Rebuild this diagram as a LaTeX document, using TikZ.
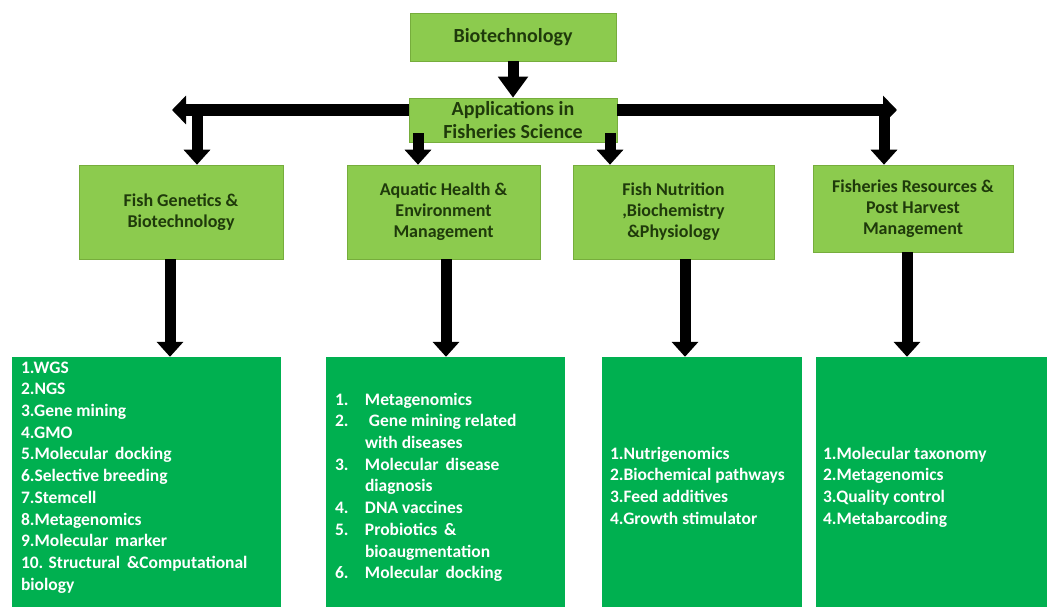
\documentclass[tikz,border=0pt]{standalone}
\usepackage{fontspec}
\setmainfont{Carlito}
\usetikzlibrary{arrows.meta,calc}
\definecolor{lgreen}{HTML}{8CCB4E}
\definecolor{lborder}{HTML}{76AD3C}
\definecolor{dgreen}{HTML}{00B050}
\definecolor{dtext}{HTML}{1F3A0B}
\tikzset{
  lbox/.style={rectangle, fill=lgreen, draw=lborder, line width=0.6pt, inner sep=0pt,
    font=\bfseries\fontsize{18}{21}\selectfont, text=dtext, align=center},
  gbox/.style={rectangle, fill=dgreen, draw=none, inner sep=0pt, minimum height=250pt},
  gtext/.style={anchor=north west, inner sep=0pt, align=left, text=white,
    font=\bfseries\fontsize{17.5}{21.7}\selectfont},
  fat/.style={line width=11pt, -{Triangle[width=26pt,length=15pt]}},
  bigfat/.style={line width=11pt, -{Triangle[width=29pt,length=21pt]}},
}
\newcommand{\nm}[1]{\makebox[30pt][l]{#1}}
\begin{document}
\begin{tikzpicture}[x=1pt,y=-1pt]
\useasboundingbox (0,0) rectangle (1047,607);
% top
\node[lbox, minimum width=206pt, minimum height=48pt, font=\bfseries\fontsize{20}{22}\selectfont] (bio) at (513,37) {Biotechnology};
\node[lbox, minimum width=208pt, minimum height=44pt, font=\bfseries\fontsize{20}{22.5}\selectfont] (app) at (513,120) {Applications in\\Fisheries Science};
% second row
\node[lbox, minimum width=204pt, minimum height=94pt] (fg) at (181,212) {Fish Genetics \&\\Biotechnology};
\node[lbox, minimum width=193pt, minimum height=94pt] (ah) at (443.5,212) {Aquatic Health \&\\Environment\\Management};
\node[lbox, minimum width=201pt, minimum height=94pt] (fn) at (673.5,212) {Fish Nutrition\\,Biochemistry\\\&Physiology};
\node[lbox, minimum width=200pt, minimum height=87pt] (fr) at (913,208.5) {Fisheries Resources \&\\Post Harvest\\Management};
% bottom row
\node[gbox, minimum width=269pt] (b1) at (146.5,482) {};
\node[gbox, minimum width=239pt] (b2) at (445.5,482) {};
\node[gbox, minimum width=200pt] (b3) at (702,482) {};
\node[gbox, minimum width=231pt] (b4) at (931.5,482) {};
\node[gtext] (t1) at ([shift={(9,1)}]b1.north west) {\strut 1.WGS\\2.NGS\\3.Gene mining\\4.GMO\\5.Molecular\ \,docking\\6.Selective breeding\\7.Stemcell\\8.Metagenomics\\9.Molecular\ \,marker\\10. Structural\ \,\&Computational\\biology};
\node[gtext] (t2) at ([shift={(9,33)}]b2.north west) {\strut\nm{1.}Metagenomics\\\nm{2.}\ Gene mining related\\\hspace*{30pt}with diseases\\\nm{3.}Molecular\ \,disease\\\hspace*{30pt}diagnosis\\\nm{4.}DNA vaccines\\\nm{5.}Probiotics\ \,\&\\\hspace*{30pt}bioaugmentation\\\nm{6.}Molecular\ \,docking};
\node[gtext] (t3) at ([shift={(8,87)}]b3.north west) {\strut 1.Nutrigenomics\\2.Biochemical pathways\\3.Feed additives\\4.Growth stimulator};
\node[gtext] (t4) at ([shift={(7,87)}]b4.north west) {\strut 1.Molecular taxonomy\\2.Metagenomics\\3.Quality control\\4.Metabarcoding};
% connectors
\coordinate (lt) at (172,110);
\coordinate (rt) at (897,110);
\coordinate (lj) at (197,110);
\coordinate (rj) at (884,110);
\coordinate (x1) at (170,0);
\coordinate (x2) at (446,0);
\coordinate (x3) at (685,0);
\coordinate (x4) at (907,0);
\draw[bigfat] (bio.south) -- (app.north);
\draw[line width=12pt, -{Triangle[width=28pt,length=14pt]}] (app.west |- lt) -- (lt);
\draw[line width=12pt, -{Triangle[width=28pt,length=14pt]}] (app.east |- rt) -- (rt);
\draw[fat] ([yshift=6pt]lj) -- (lj |- fg.north);
\draw[fat] ([yshift=6pt]rj) -- (rj |- fr.north);
\draw[fat] ([shift={(-95,-9)}]app.south) coordinate (s1) -- (s1 |- ah.north);
\draw[fat] ([shift={(97,-9)}]app.south) coordinate (s2) -- (s2 |- fn.north);
\draw[fat] (fg.south -| x1) -- (b1.north -| x1);
\draw[fat] (ah.south -| x2) -- (b2.north -| x2);
\draw[fat] (fn.south -| x3) -- (b3.north -| x3);
\draw[fat] (fr.south -| x4) -- (b4.north -| x4);
\end{tikzpicture}
\end{document}
